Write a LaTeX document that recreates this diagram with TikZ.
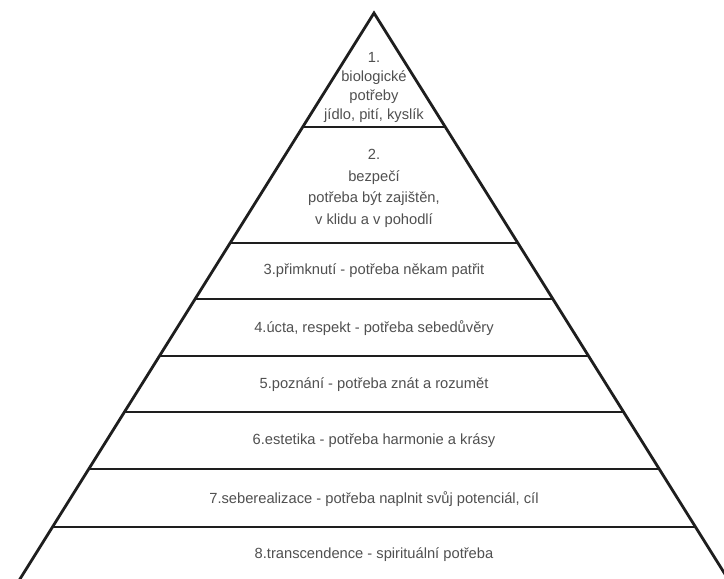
\documentclass[tikz,border=0pt]{standalone}
\usepackage{fontspec}
\setmainfont{Liberation Sans}
\definecolor{edgecol}{HTML}{1E1E1E}
\definecolor{txtcol}{HTML}{505050}
\begin{document}
\begin{tikzpicture}[x=1pt,y=-1pt,
  pyr/.style={draw=edgecol,line width=2.8pt},
  lbl/.style={text=txtcol,font=\fontsize{14.7}{19}\selectfont,align=center,inner sep=0pt},
  lbltwo/.style={lbl,font=\fontsize{14.7}{21.7}\selectfont}]
\useasboundingbox (0,0) rectangle (724,579);
\fill[white] (0,0) rectangle (724,579);
\clip (0,0) rectangle (724,579);
\coordinate (apex) at (374,13);
\coordinate (BL) at ({374-0.6255*590},603);
\coordinate (BR) at ({374+0.6255*590},603);
\foreach \yy [count=\i] in {127,243,299,356,412,469,527} {
  \coordinate (L\i) at ({374-0.6255*(\yy-13)},\yy);
  \coordinate (R\i) at ({374+0.6255*(\yy-13)},\yy);
}
\draw[pyr] (BL) -- (apex) -- (BR);
\foreach \i in {1,...,7} { \draw[pyr] (L\i) -- (R\i); }
\node[lbl] (t1) at (374,87) {1.\\biologické\\potřeby\\jídlo, pití, kyslík};
\node[lbltwo] (t2) at (374,188.5) {2.\\bezpečí\\potřeba být zajištěn,\\v klidu a v pohodlí};
\node[lbl] (t3) at (374,271) {3.přimknutí - potřeba někam patřit};
\node[lbl] (t4) at (374,328) {4.úcta, respekt - potřeba sebedůvěry};
\node[lbl] (t5) at (374,385) {5.poznání - potřeba znát a rozumět};
\node[lbl] (t6) at (374,441) {6.estetika - potřeba harmonie a krásy};
\node[lbl] (t7) at (374,499) {7.seberealizace - potřeba naplnit svůj potenciál, cíl};
\node[lbl] (t8) at (374,555) {8.transcendence - spirituální potřeba};
\end{tikzpicture}
\end{document}
